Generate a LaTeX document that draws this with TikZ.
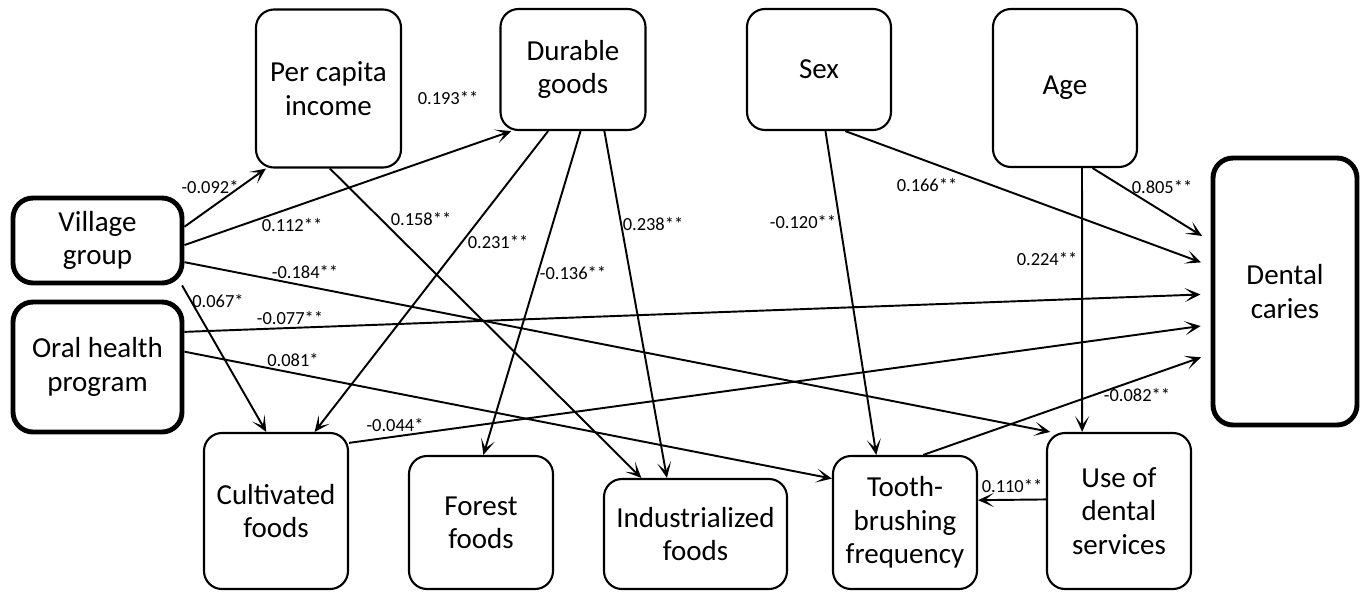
\documentclass[tikz,border=0pt]{standalone}
\usepackage{fontspec}
\setmainfont{Carlito}
\usetikzlibrary{shapes,arrows,positioning,fit,arrows.meta}

\begin{document}
\begin{tikzpicture}[x=0.2mm, y=-0.2mm, every node/.style={font=\fontsize{16.5}{19}\selectfont}]
    \tikzstyle{box} = [rectangle, draw, line width=1.2pt, align=center, rounded corners=0.36cm, inner sep=2pt, minimum width=2.88cm]
    \tikzstyle{mainbox} = [box, line width=2.8pt, rounded corners=0.4cm, minimum width=3.38cm]
    \tikzstyle{coef} = [font=\fontsize{10.5}{12}\selectfont, inner sep=1pt]
    \tikzstyle{link} = [line width=1.1pt, -{Stealth[length=9pt, width=8pt, inset=5pt]}]
    \useasboundingbox (0,0) rectangle (1362,592);

    \node (village) [mainbox, minimum height=1.7cm] at (97.5,240.5) {Village\\group};
    \node (oral) [mainbox, minimum height=2.6cm] at (97.5,367) {Oral health\\program};
    \node (percap) [box, minimum width=2.9cm, minimum height=3.16cm] at (328.5,88.5) {Per capita\\income};
    \node (durable) [box, minimum width=2.9cm, minimum height=2.42cm] at (573,69.5) {Durable\\goods};
    \node (sex) [box, minimum height=2.42cm] at (819,69.5) {Sex};
    \node (age) [box, minimum height=3.16cm] at (1065,88) {Age};
    \node (dental) [mainbox, minimum width=2.88cm, minimum height=5.34cm] at (1285,291.5) {Dental\\caries};
    \node (cult) [box, minimum height=3.12cm] at (276,511) {Cultivated\\foods};
    \node (forest) [box, minimum height=2.66cm] at (481,522.5) {Forest\\foods};
    \node (indus) [box, minimum width=3.66cm, minimum height=2.2cm] at (695.5,534) {Industrialized\\foods};
    \node (tooth) [box, minimum height=2.66cm] at (905,522.5) {Tooth-\\brushing\\frequency};
    \node (use) [box, minimum height=3.12cm] at (1119,511) {Use of\\dental\\services};

    \draw [link] (village.9) -- (percap.232);
    \draw [link] (village.-3) -- (durable.225);
    \draw [link] (percap.-89) -- (indus.134);
    \draw [link] (durable.248) -- (cult.64);
    \draw [link] (durable.-83) -- (forest.88);
    \draw [link] (durable.-63) -- (indus.117);
    \draw [link] (sex.-84) -- (tooth.113);
    \draw [link, shorten >=0.2cm] (sex.-67) -- (dental.161);
    \draw [link] (age.-78) -- (use.115);
    \draw [link, shorten >=0.2cm] (age.-71) -- (dental.146);
    \draw [link] (village.-14) -- (use.131);
    \draw [link] (village.-28) -- (cult.97);
    \draw [link, shorten >=0.2cm] (oral.22) -- (dental.182);
    \draw [link] (oral.10) -- (tooth.149);
    \draw [link, shorten >=0.2cm] (cult.43) -- (dental.204);
    \draw [link, shorten >=0.2cm] (tooth.75) -- (dental.220);
    \draw [link] (use.171) -- (tooth.17);

    \node (c1) [coef] at (210,187) {-0.092*};
    \node (c2) [coef] at (292,225) {0.112**};
    \node (c3) [coef] at (421,219) {0.158**};
    \node (c4) [coef] at (448,98) {0.193**};
    \node (c5) [coef] at (498,242) {0.231**};
    \node (c6) [coef] at (573,273) {-0.136**};
    \node (c7) [coef] at (653,224) {0.238**};
    \node (c8) [coef] at (803,222) {-0.120**};
    \node (c9) [coef] at (927,185) {0.166**};
    \node (c10) [coef] at (1162,187) {0.805**};
    \node (c11) [coef] at (1047,259) {0.224**};
    \node (c12) [coef] at (305,272) {-0.184**};
    \node (c13) [coef] at (218,301) {0.067*};
    \node (c14) [coef] at (290,318) {-0.077**};
    \node (c15) [coef] at (293,360) {0.081*};
    \node (c16) [coef] at (395,425) {-0.044*};
    \node (c17) [coef] at (1137,395) {-0.082**};
    \node (c18) [coef] at (1012,486) {0.110**};

\end{tikzpicture}
\end{document}
